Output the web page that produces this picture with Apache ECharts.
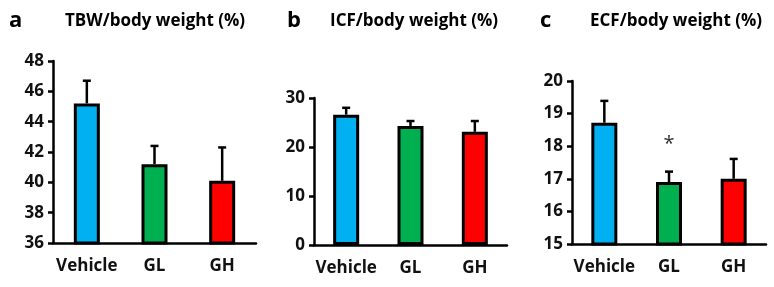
<!DOCTYPE html>
<html>
<head>
<meta charset="UTF-8">
<title>body water</title>
<script src="https://cdn.jsdelivr.net/npm/echarts@6/dist/echarts.min.js"></script>
<style>html,body{margin:0;padding:0;background:#fff}</style>
</head>
<body>
<div id="main" style="width:774px;height:287px;"></div>
<script>
// groups and bar colours
var groups = ['Vehicle', 'GL', 'GH'];
var colors = ['#00b0f0', '#00b050', '#ff0000'];

// a: TBW
var tbwMean = [45.2, 41.2, 40.1];
var tbwErr = [1.5, 1.2, 2.2];
// b: ICF
var icfMean = [26.6, 24.3, 23.1];
var icfErr = [1.4, 1.0, 2.2];
// c: ECF
var ecfMean = [18.72, 16.9, 17.0];
var ecfErr = [0.67, 0.32, 0.61];
var ecfSig = ['', '*', ''];

var panels = [
  {letter: 'a', title: 'TBW/body weight (%)', mean: tbwMean, err: tbwErr, sig: null,
   min: 36, max: 48, interval: 2, left: 53, top: 61, width: 203, height: 182, lx: 9, tx: 65},
  {letter: 'b', title: 'ICF/body weight (%)', mean: icfMean, err: icfErr, sig: null,
   min: 0, max: 30, interval: 10, left: 314, top: 98, width: 193, height: 147, lx: 287, tx: 330},
  {letter: 'c', title: 'ECF/body weight (%)', mean: ecfMean, err: ecfErr, sig: ecfSig,
   min: 15, max: 20, interval: 1, left: 572, top: 81, width: 194, height: 163, lx: 540, tx: 590}
];

var font = '"Open Sans", Lato, sans-serif';
var grids = [], xAxes = [], yAxes = [], series = [], graphics = [];

panels.forEach(function (p, k) {
  grids.push({left: p.left, top: p.top, width: p.width, height: p.height});
  xAxes.push({
    type: 'category', gridIndex: k, data: groups,
    axisLine: {lineStyle: {color: '#000', width: 2.5}},
    axisTick: {show: false},
    axisLabel: {interval: 0, color: '#111', fontSize: 17, fontWeight: 'bold', fontFamily: font, margin: 15}
  });
  yAxes.push({
    type: 'value', gridIndex: k, min: p.min, max: p.max, interval: p.interval,
    axisLine: {show: true, lineStyle: {color: '#000', width: 2.5}},
    axisTick: {show: true, length: 5, lineStyle: {color: '#000', width: 2.5}},
    splitLine: {show: false},
    axisLabel: {color: '#111', fontSize: 17, fontWeight: 'bold', fontFamily: font, margin: 9}
  });
  series.push({
    type: 'bar', xAxisIndex: k, yAxisIndex: k, barWidth: 26,
    data: p.mean.map(function (v, i) {
      return {value: v, itemStyle: {color: colors[i]}};
    }),
    itemStyle: {borderColor: '#000', borderWidth: 3},
    z: 3
  });
  series.push({
    type: 'custom', xAxisIndex: k, yAxisIndex: k, z: 2,
    data: p.mean.map(function (v, i) {
      return [i, v, v + p.err[i], p.sig ? p.sig[i] : ''];
    }),
    renderItem: function (params, api) {
      var lo = api.coord([api.value(0), api.value(1)]);
      var hi = api.coord([api.value(0), api.value(2)]);
      var kids = [
        {type: 'line', shape: {x1: lo[0], y1: lo[1], x2: hi[0], y2: hi[1]},
         style: {stroke: '#000', lineWidth: 2.5}},
        {type: 'line', shape: {x1: hi[0] - 4, y1: hi[1], x2: hi[0] + 4, y2: hi[1]},
         style: {stroke: '#000', lineWidth: 2.5}}
      ];
      var s = api.value(3);
      if (s) {
        kids.push({type: 'text', x: hi[0], y: hi[1] - 27,
          style: {text: s, fill: '#333', font: '20px ' + font, align: 'center', verticalAlign: 'middle'}});
      }
      return {type: 'group', children: kids};
    }
  });
  graphics.push({type: 'text', x: p.lx, y: 21,
    style: {text: p.letter, fill: '#000', font: 'bold 22px ' + font, verticalAlign: 'middle'}});
  graphics.push({type: 'text', x: p.tx, y: 21,
    style: {text: p.title, fill: '#000', font: 'bold 17px ' + font, verticalAlign: 'middle'}});
});

var chart = echarts.init(document.getElementById('main'));
chart.setOption({
  animation: false,
  grid: grids,
  xAxis: xAxes,
  yAxis: yAxes,
  series: series,
  graphic: graphics
});
</script>
</body>
</html>
